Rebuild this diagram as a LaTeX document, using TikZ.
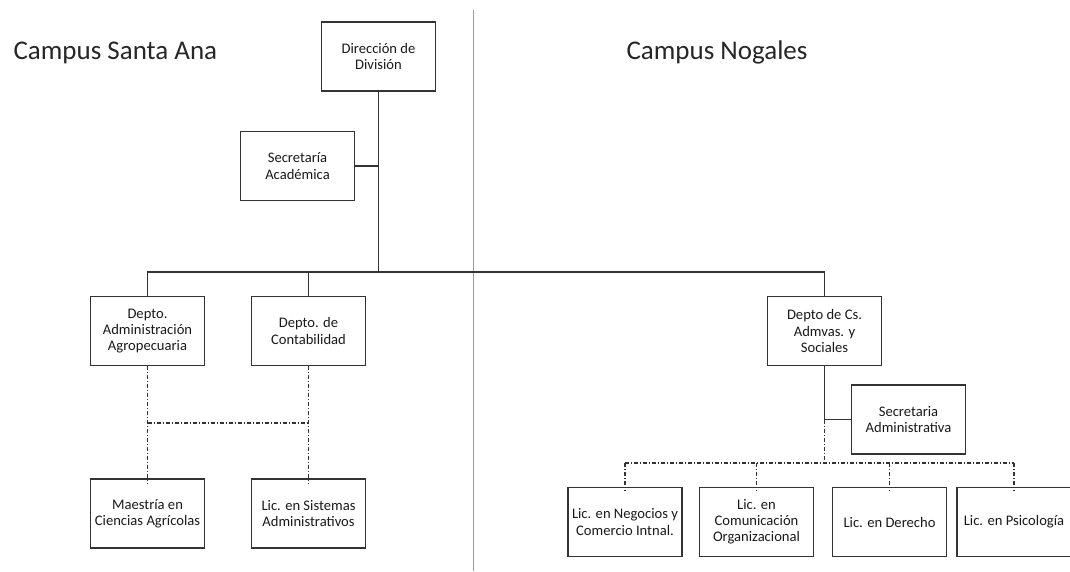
\documentclass[tikz,border=0pt]{standalone}
\usepackage{fontspec}
\setmainfont{Carlito}
\definecolor{divline}{RGB}{95,175,225}
\begin{document}
\begin{tikzpicture}[x=1pt,y=-1pt,line cap=butt,
  unit/.style={draw=black!80,line width=1.4pt,minimum width=114pt,minimum height=69pt,
    inner sep=2pt,align=center,font=\fontsize{14.6}{16.2}\selectfont,text=black!90},
  title/.style={anchor=base west,font=\fontsize{27}{30}\selectfont,text=black!85},
  link/.style={draw=black!80,line width=1.3pt},
  staff/.style={draw=black!80,line width=1.2pt,dash pattern=on 4pt off 2pt on 1pt off 2pt}]
  \useasboundingbox (0,0) rectangle (1070,571);
  \clip (0,0) rectangle (1070,571);
  % divisoria entre campus
  \coordinate (divT) at (473.5,10);
  \coordinate (divB) at (473.5,571);
  \draw[line width=1.5pt,divline] (divT) -- (divB);
  \node[title] (tSA) at (10,59) {Campus Santa Ana};
  \node[title] (tNo) at (623,59) {Campus Nogales};
  % nodos
  \node[unit] (dir) at (378.5,56.5) {Dirección de\\División};
  \node[unit] (sac) at (297.5,166) {Secretaría\\Académica};
  \node[unit] (agro) at (147.5,331) {Depto.\\Administración\\Agropecuaria};
  \node[unit] (cont) at (308.5,331) {Depto. de\\Contabilidad};
  \node[unit] (csa) at (824.5,331) {Depto de Cs.\\Admvas. y\\Sociales};
  \node[unit] (sadm) at (908.5,419.5) {Secretaria\\Administrativa};
  \node[unit] (maes) at (147.5,513.5) {Maestría en\\Ciencias Agrícolas};
  \node[unit] (sist) at (308.5,513.5) {Lic. en Sistemas\\Administrativos};
  \node[unit] (neg) at (625,522) {Lic. en Negocios y\\Comercio Intnal.};
  \node[unit] (com) at (756.5,522) {Lic. en\\Comunicación\\Organizacional};
  \node[unit] (der) at (889.5,522) {Lic. en Derecho};
  \node[unit] (psi) at (1014,522) {Lic. en Psicología};
  % lineas de mando
  \coordinate (bus) at (0,272);
  \draw[link] (dir.south) -- (dir.south |- bus);
  \draw[link] (sac.east) -- (sac.east -| dir.south);
  \draw[link] (agro.north) -- (agro.north |- bus) -- (csa.north |- bus) -- (csa.north);
  \draw[link] (cont.north) -- (cont.north |- bus);
  \draw[link] (csa.south) -- (csa.south |- sadm.west) -- (sadm.west);
  % lineas de coordinacion
  \coordinate (jL) at (0,423);
  \coordinate (jR) at (0,463);
  \draw[staff] (agro.south) -- ([yshift=-5pt]maes.north);
  \draw[staff] (cont.south) -- ([yshift=-5pt]sist.north);
  \draw[staff] (agro.south |- jL) -- (cont.south |- jL);
  \draw[staff] (csa.south |- sadm.west) -- (csa.south |- jR);
  \draw[staff] (neg.north |- jR) -- (psi.north |- jR);
  \foreach \n in {neg,com,der,psi}
    \draw[staff] (\n.north |- jR) -- ([yshift=-4pt]\n.north);
\end{tikzpicture}
\end{document}
